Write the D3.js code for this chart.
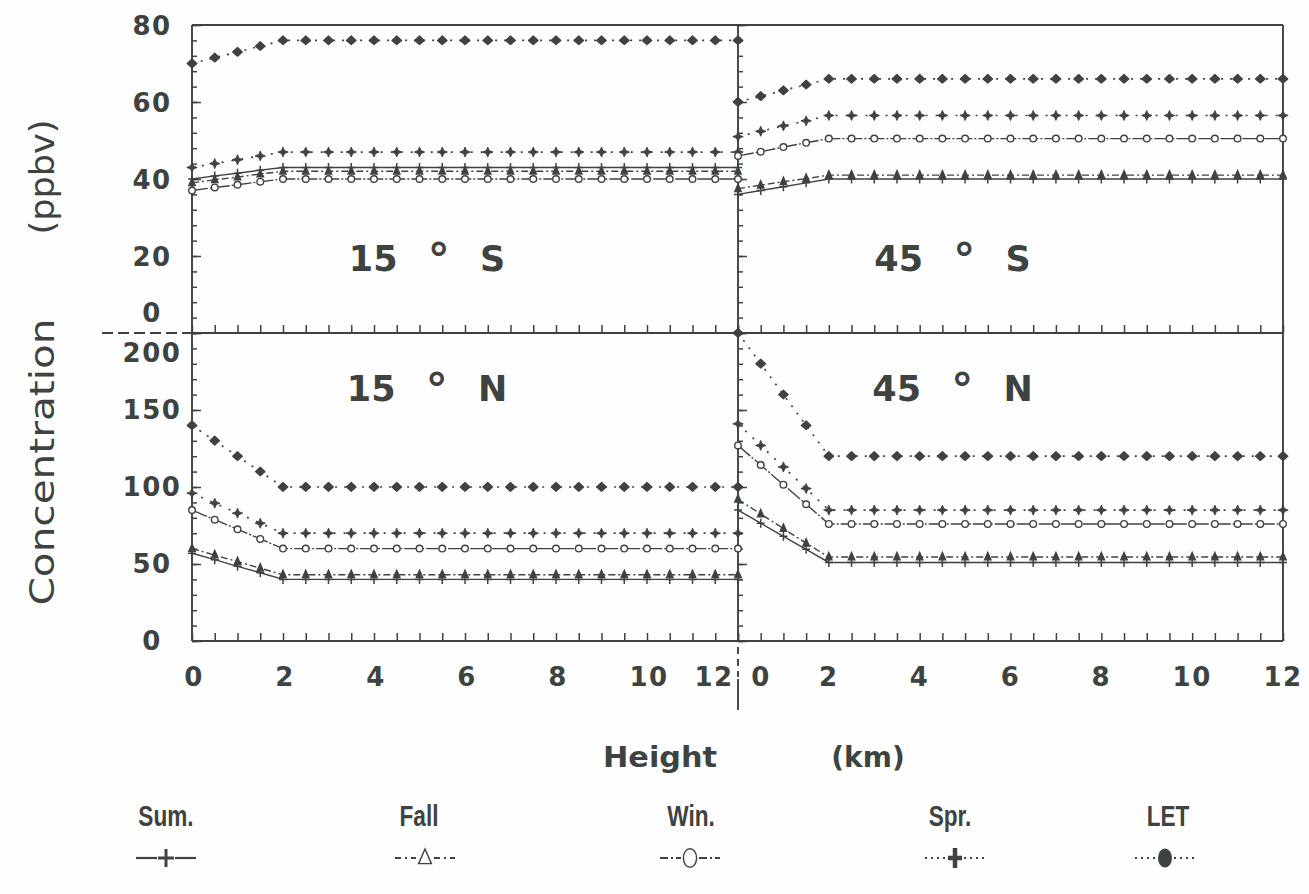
<!DOCTYPE html>
<html><head><meta charset="utf-8">
<script src="https://cdn.jsdelivr.net/npm/d3@7"></script>
<style>body{margin:0;background:#fff}</style>
</head><body><svg id="c" width="1309" height="894"></svg>
<script>
// ---------------- DATA ----------------
const heights=[0,0.5,1,1.5,2,2.5,3,3.5,4,4.5,5,5.5,6,6.5,7,7.5,8,8.5,9,9.5,10,10.5,11,11.5,12];
const seasons=["Sum.","Fall","Win.","Spr.","LET"];
const panelNames=["15 ° S","45 ° S","15 ° N","45 ° N"];
const yTickLabelsTop=[0,20,40,60,80];
const yTickLabelsBottom=[0,50,100,150,200];
const xTickLabels=[0,2,4,6,8,10,12];

// 15 S (ppbv)
const sum15S =[40,40.8,41.5,42.3,43,43,43,43,43,43,43,43,43,43,43,43,43,43,43,43,43,43,43,43,43];
const fall15S=[39,39.8,40.5,41.3,42,42,42,42,42,42,42,42,42,42,42,42,42,42,42,42,42,42,42,42,42];
const win15S =[37,37.8,38.5,39.3,40,40,40,40,40,40,40,40,40,40,40,40,40,40,40,40,40,40,40,40,40];
const spr15S =[43,44,45,46,47,47,47,47,47,47,47,47,47,47,47,47,47,47,47,47,47,47,47,47,47];
const let15S =[70,71.5,73,74.5,76,76,76,76,76,76,76,76,76,76,76,76,76,76,76,76,76,76,76,76,76];
// 45 S
const sum45S =[36,37,38,39,40,40,40,40,40,40,40,40,40,40,40,40,40,40,40,40,40,40,40,40,40];
const fall45S=[37.5,38.4,39.3,40.1,41,41,41,41,41,41,41,41,41,41,41,41,41,41,41,41,41,41,41,41,41];
const win45S =[46,47.1,48.3,49.4,50.5,50.5,50.5,50.5,50.5,50.5,50.5,50.5,50.5,50.5,50.5,50.5,50.5,50.5,50.5,50.5,50.5,50.5,50.5,50.5,50.5];
const spr45S =[51,52.4,53.8,55.1,56.5,56.5,56.5,56.5,56.5,56.5,56.5,56.5,56.5,56.5,56.5,56.5,56.5,56.5,56.5,56.5,56.5,56.5,56.5,56.5,56.5];
const let45S =[60,61.5,63,64.5,66,66,66,66,66,66,66,66,66,66,66,66,66,66,66,66,66,66,66,66,66];
// 15 N
const sum15N =[57,52.8,48.5,44.3,40,40,40,40,40,40,40,40,40,40,40,40,40,40,40,40,40,40,40,40,40];
const fall15N=[60,55.8,51.5,47.3,43,43,43,43,43,43,43,43,43,43,43,43,43,43,43,43,43,43,43,43,43];
const win15N =[85,78.8,72.5,66.3,60,60,60,60,60,60,60,60,60,60,60,60,60,60,60,60,60,60,60,60,60];
const spr15N =[96,89.5,83,76.5,70,70,70,70,70,70,70,70,70,70,70,70,70,70,70,70,70,70,70,70,70];
const let15N =[140,130,120,110,100,100,100,100,100,100,100,100,100,100,100,100,100,100,100,100,100,100,100,100,100];
// 45 N
const sum45N =[85,76.5,68,59.5,51,51,51,51,51,51,51,51,51,51,51,51,51,51,51,51,51,51,51,51,51];
const fall45N=[92,82.5,73,63.5,54.5,54.5,54.5,54.5,54.5,54.5,54.5,54.5,54.5,54.5,54.5,54.5,54.5,54.5,54.5,54.5,54.5,54.5,54.5,54.5,54.5];
const win45N =[127,114.3,101.5,88.8,76,76,76,76,76,76,76,76,76,76,76,76,76,76,76,76,76,76,76,76,76];
const spr45N =[141,127,113,99,85,85,85,85,85,85,85,85,85,85,85,85,85,85,85,85,85,85,85,85,85];
const let45N =[200,180,160,140,120,120,120,120,120,120,120,120,120,120,120,120,120,120,120,120,120,120,120,120,120];

// ---------------- DRAW ----------------
const ink="#3e4340";
const svg=d3.select("#c");
svg.append("rect").attr("width",1309).attr("height",894).attr("fill","#fefefe");

const xL=d3.scaleLinear().domain([0,12]).range([192,738]);
const xR=d3.scaleLinear().domain([0,12]).range([738,1283]);
const yT=d3.scaleLinear().domain([0,80]).range([333,25]);
const yB=d3.scaleLinear().domain([0,200]).range([641,333]);

const panels=[
  {name:panelNames[0],x:xL,y:yT,series:[sum15S,fall15S,win15S,spr15S,let15S]},
  {name:panelNames[1],x:xR,y:yT,series:[sum45S,fall45S,win45S,spr45S,let45S]},
  {name:panelNames[2],x:xL,y:yB,series:[sum15N,fall15N,win15N,spr15N,let15N]},
  {name:panelNames[3],x:xR,y:yB,series:[sum45N,fall45N,win45N,spr45N,let45N]}
];

// styles per season (index-aligned with seasons)
const styles=[
  {dash:null, marker:"plus"},
  {dash:"7,3,2,3", marker:"tri"},
  {dash:"16,2,2,2", marker:"circ"},
  {dash:"2,8", marker:"star"},
  {dash:"2,7", marker:"dot"}
];

function drawMarker(g,type,cx,cy,s){
  s=s||1;
  if(type==="plus"){
    g.append("path").attr("d",`M${cx-4*s},${cy}H${cx+4*s}M${cx},${cy-4.5*s}V${cy+4.5*s}`)
     .attr("stroke",ink).attr("stroke-width",1.5*s).attr("fill","none");
  } else if(type==="tri"){
    g.append("path").attr("d",`M${cx},${cy-4.5*s}L${cx+3.2*s},${cy+2.8*s}L${cx-3.2*s},${cy+2.8*s}Z`)
     .attr("stroke",ink).attr("stroke-width",1.4).attr("fill",s>1?"#fff":ink);
  } else if(type==="circ"){
    g.append("ellipse").attr("cx",cx).attr("cy",cy).attr("rx",3.3*s).attr("ry",3.3*s*(s>1?1.4:1))
     .attr("stroke",ink).attr("stroke-width",1.4).attr("fill","#fff");
  } else if(type==="star"){
    if(s>1){
      g.append("path").attr("d",`M${cx-7},${cy}H${cx+7}M${cx},${cy-10}V${cy+10}`)
       .attr("stroke",ink).attr("stroke-width",4.5).attr("fill","none");
    } else {
      g.append("path").attr("d",`M${cx},${cy-5}L${cx+1.5},${cy-1.5}L${cx+5.2},${cy}L${cx+1.5},${cy+1.5}L${cx},${cy+5}L${cx-1.5},${cy+1.5}L${cx-5.2},${cy}L${cx-1.5},${cy-1.5}Z`)
       .attr("fill",ink).attr("stroke",ink).attr("stroke-width",0.9);
    }
  } else if(type==="dot"){
    if(s>1){
      g.append("ellipse").attr("cx",cx).attr("cy",cy).attr("rx",7).attr("ry",9.5).attr("fill",ink);
    } else {
      g.append("path").attr("d",`M${cx},${cy-4.5}L${cx+4.8},${cy}L${cx},${cy+4.2}L${cx-4.8},${cy}Z`)
       .attr("fill",ink).attr("stroke",ink).attr("stroke-width",1.3).attr("stroke-linejoin","round");
    }
  }
}

// frame lines
const frame=svg.append("g").attr("stroke",ink).attr("stroke-width",1.9).attr("fill","none");
function ln(x1,y1,x2,y2,dash){const l=frame.append("line").attr("x1",x1).attr("y1",y1).attr("x2",x2).attr("y2",y2); if(dash) l.attr("stroke-dasharray",dash); return l;}
ln(xL(0),yT(80),xR(12),yT(80));
ln(xL(0),yT(0),xR(12),yT(0));
ln(xL(0),yB(0),xR(12),yB(0));
ln(xL(0),yT(80),xL(0),yB(0));
ln(xL(12),yT(80),xL(12),yB(0));
ln(xR(12),yT(80),xR(12),yB(0));
ln(102,yT(0),xL(0),yT(0),"11,5");
ln(xL(12),yB(0)+6,xL(12),yB(0)+36,"7,5");
ln(xL(12),yB(0)+38,xL(12),yB(0)+69);

// axes ticks
const yMinorTop=d3.range(0,81,4), yMinorBottom=d3.range(0,201,10);
function styleAxis(g){g.select(".domain").remove(); g.selectAll(".tick line").attr("stroke",ink).attr("stroke-width",1.5);}
[[xL,yT,yTickLabelsTop,yMinorTop],[xR,yT,yTickLabelsTop,yMinorTop],[xL,yB,yTickLabelsBottom,yMinorBottom],[xR,yB,yTickLabelsBottom,yMinorBottom]].forEach(([x,y,maj,min])=>{
  svg.append("g").attr("transform",`translate(${x(0)},0)`).call(d3.axisRight(y).tickValues(min).tickSize(5).tickFormat("")).call(styleAxis);
  svg.append("g").attr("transform",`translate(${x(0)},0)`).call(d3.axisRight(y).tickValues(maj).tickSize(9).tickFormat("")).call(styleAxis);
  svg.append("g").attr("transform",`translate(0,${y(0)})`).call(d3.axisTop(x).tickValues(heights).tickSize(8).tickFormat("")).call(styleAxis);
});

// tick labels
const tickFont="DejaVu Sans";
function tl(x,y,t,anchor){svg.append("text").attr("x",x).attr("y",y).attr("dy","0.36em").attr("text-anchor",anchor||"middle")
  .attr("font-family",tickFont).attr("font-weight","bold").attr("font-size",26).attr("fill",ink).attr("letter-spacing",1.5).text(t);}
yTickLabelsTop.forEach(v=>tl(152,v===0?yT(v)-20:yT(v)+1,v));
yTickLabelsBottom.forEach(v=>tl(152,v===200?yB(v)+20:yB(v),v));
xTickLabels.forEach(v=>tl(v===12?xL(v)-24:xL(v)+2,677,v));
xTickLabels.forEach(v=>tl(v===0?xR(v)+23:xR(v),677,v));

// series
panels.forEach(p=>{
  const g=svg.append("g");
  p.series.forEach((vals,si)=>{
    const pts=heights.map((h,i)=>[h,vals[i]]);
    const line=d3.line().x(d=>p.x(d[0])).y(d=>p.y(d[1]));
    const path=g.append("path").attr("d",line(pts)).attr("fill","none").attr("stroke",ink)
      .attr("stroke-width",si>=3?1.7:1.4);
    if(styles[si].dash) path.attr("stroke-dasharray",styles[si].dash);
  });
  p.series.forEach((vals,si)=>{
    heights.forEach((h,i)=>drawMarker(g,styles[si].marker,p.x(h),p.y(vals[i]),1));
  });
  // panel label
  const cx=(p.x(0)+p.x(12))/2+ (p.x===xL?-38:-58);
  const cy=p.y===yT?258:388;
  const parts=p.name.split(" ");
  const t=svg.append("text").attr("x",cx).attr("y",cy).attr("dy","0.36em").attr("text-anchor","middle")
    .attr("font-family","DejaVu Sans").attr("font-weight","bold").attr("font-size",35)
    .attr("word-spacing",18).attr("fill",ink).attr("xml:space","preserve");
  t.append("tspan").text(parts[0]+" ");
  t.append("tspan").attr("font-size",44).attr("dy",4).text(parts[1]);
  t.append("tspan").attr("dy",-4).text(" "+parts[2]);
});

// axis titles
svg.append("text").attr("x",660).attr("y",767).attr("text-anchor","middle").attr("font-family","DejaVu Sans")
  .attr("font-weight","bold").attr("font-size",28).attr("fill",ink).attr("textLength",114).attr("lengthAdjust","spacingAndGlyphs").text("Height");
svg.append("text").attr("x",868).attr("y",767).attr("text-anchor","middle").attr("font-family","DejaVu Sans")
  .attr("font-weight","bold").attr("font-size",28).attr("fill",ink).text("(km)");
svg.append("text").attr("transform","translate(54,462) rotate(-90)").attr("text-anchor","middle").attr("font-family","DejaVu Sans")
  .attr("font-size",33).attr("fill",ink).attr("textLength",287).attr("lengthAdjust","spacingAndGlyphs").text("Concentration");
svg.append("text").attr("transform","translate(54,177) rotate(-90)").attr("text-anchor","middle").attr("font-family","DejaVu Sans")
  .attr("font-size",33).attr("fill",ink).attr("textLength",115).attr("lengthAdjust","spacingAndGlyphs").text("(ppbv)");

// legend
const legLabelX=[166,419,691,950,1168];
const legSymX=[166,425,690,955,1165];
const legDash=[null,"6,4,2,4","8,3,2,3","2,4","2,4"];
seasons.forEach((s,i)=>{
  svg.append("text").attr("transform",`translate(${legLabelX[i]},826) scale(0.78,1)`).attr("text-anchor","middle")
    .attr("font-family","Liberation Sans").attr("font-weight","bold").attr("font-size",29).attr("fill",ink).text(s);
  const cx=legSymX[i], cy=858;
  const lg=svg.append("g");
  [[cx-30,cx-9],[cx+9,cx+30]].forEach(([a,b])=>{
    const l=lg.append("line").attr("x1",a).attr("x2",b).attr("y1",cy).attr("y2",cy).attr("stroke",ink).attr("stroke-width",i>=3?1.8:2.2);
    if(legDash[i]) l.attr("stroke-dasharray",legDash[i]);
  });
  drawMarker(lg,styles[i].marker,cx,cy,2);
});
</script></body></html>
